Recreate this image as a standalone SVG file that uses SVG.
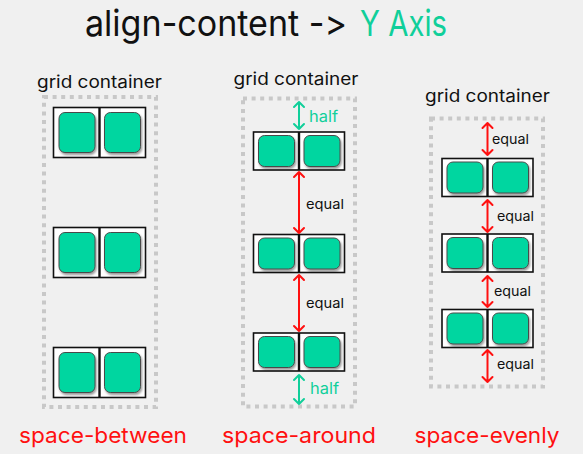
<svg xmlns="http://www.w3.org/2000/svg" width="583" height="454" viewBox="0 0 583 454">
  <style>
    .bg { fill: #f0f0f0; }
    .box { fill: none; stroke: #c8c8c8; stroke-width: 4; stroke-dasharray: 4 4.6; }
    .cell { fill: #ffffff; stroke: #111111; stroke-width: 1.6; }
    .div { stroke: #111111; stroke-width: 2.4; }
    .item { fill: #06d6a0; stroke: #4a4a4a; stroke-width: 1; filter: url(#shadow); }
    text { font-feature-settings: "calt" 0, "liga" 0; font-variant-ligatures: none; }
    .lbl { font-family: Inter, "Open Sans", sans-serif; font-size: 17px; fill: #111111; }
    .eq { font-family: Inter, "Open Sans", sans-serif; font-size: 13.5px; fill: #111111; }
    .half { font-family: Inter, "Open Sans", sans-serif; font-size: 16px; fill: #10cf9a; }
    .mode { font-family: Inter, "Open Sans", sans-serif; font-size: 22px; fill: #ff1010; }
    .title { font-family: Inter, "Open Sans", sans-serif; font-size: 36px; }
    .red { fill: none; stroke: #ff1010; stroke-width: 2; stroke-linecap: round; stroke-linejoin: round; }
    .teal { fill: none; stroke: #10cf9a; stroke-width: 2; stroke-linecap: round; stroke-linejoin: round; }
  </style>
  <defs>
    <filter id="shadow" x="-20%" y="-20%" width="150%" height="150%">
      <feDropShadow dx="1.2" dy="2" stdDeviation="1" flood-color="#000" flood-opacity="0.4"/>
    </filter>
    <!-- one row of the grid: two cells with a rounded item each (tall variant) -->
    <g id="rowTall">
      <rect class="cell" x="0" y="0" width="92" height="50"/>
      <line class="div" x1="46" y1="0" x2="46" y2="50"/>
      <rect class="item" x="5.5" y="5" width="36" height="40" rx="6"/>
      <rect class="item" x="51" y="5" width="36" height="40" rx="6"/>
    </g>
    <!-- shorter row variant -->
    <g id="rowShort">
      <rect class="cell" x="0" y="0" width="91" height="38"/>
      <line class="div" x1="45.5" y1="0" x2="45.5" y2="38"/>
      <rect class="item" x="5" y="3.5" width="36" height="31" rx="6"/>
      <rect class="item" x="50.5" y="3.5" width="36" height="31" rx="6"/>
    </g>
  </defs>

  <rect class="bg" x="0" y="0" width="583" height="454"/>

  <g id="title">
    <text class="title" x="85" y="36" fill="#111111" textLength="262" lengthAdjust="spacingAndGlyphs">align-content -&gt;</text>
    <text class="title" x="360" y="36" fill="#10cf9a" textLength="87" lengthAdjust="spacingAndGlyphs">Y Axis</text>
  </g>

  <!-- space-between -->
  <g id="between">
    <text class="lbl" x="37" y="88" textLength="125" lengthAdjust="spacingAndGlyphs">grid container</text>
    <rect class="box" x="44" y="97" width="112" height="310"/>
    <use href="#rowTall" x="53.5" y="107.5"/>
    <use href="#rowTall" x="53.5" y="227.5"/>
    <use href="#rowTall" x="53.5" y="347.5"/>
    <text class="mode" x="19" y="443" textLength="168" lengthAdjust="spacingAndGlyphs">space-between</text>
  </g>

  <!-- space-around -->
  <g id="around">
    <text class="lbl" x="233.5" y="85" textLength="125" lengthAdjust="spacingAndGlyphs">grid container</text>
    <rect class="box" x="243" y="98.5" width="112" height="308"/>
    <use href="#rowShort" x="253.5" y="132"/>
    <use href="#rowShort" x="253.5" y="234.5"/>
    <use href="#rowShort" x="253.5" y="333"/>
    <text class="mode" x="222" y="443" textLength="154" lengthAdjust="spacingAndGlyphs">space-around</text>
  </g>

  <!-- space-evenly -->
  <g id="evenly">
    <text class="lbl" x="425" y="102" textLength="125" lengthAdjust="spacingAndGlyphs">grid container</text>
    <rect class="box" x="431" y="118.5" width="112" height="268"/>
    <use href="#rowShort" x="442" y="158.5"/>
    <use href="#rowShort" x="442" y="234"/>
    <use href="#rowShort" x="442" y="309.5"/>
    <text class="mode" x="414.5" y="443" textLength="145" lengthAdjust="spacingAndGlyphs">space-evenly</text>
  </g>

  <!-- spacing arrows and their labels -->
  <g id="connectors">
    <!-- space-around -->
    <path class="teal" d="M299 102 V129 M294 107 L299 102 L304 107 M294 124 L299 129 L304 124"/>
    <text class="half" x="309" y="122" textLength="29" lengthAdjust="spacingAndGlyphs">half</text>
    <path class="red" d="M299 172 V233 M294 177 L299 172 L304 177 M294 228 L299 233 L304 228"/>
    <text class="eq" x="306" y="209" textLength="38" lengthAdjust="spacingAndGlyphs">equal</text>
    <path class="red" d="M299 275 V331 M294 280 L299 275 L304 280 M294 326 L299 331 L304 326"/>
    <text class="eq" x="306" y="308" textLength="38" lengthAdjust="spacingAndGlyphs">equal</text>
    <path class="teal" d="M299 375 V404 M294 380 L299 375 L304 380 M294 399 L299 404 L304 399"/>
    <text class="half" x="310" y="394" textLength="29" lengthAdjust="spacingAndGlyphs">half</text>

    <!-- space-evenly -->
    <path class="red" d="M487.5 123 V155 M482.5 128 L487.5 123 L492.5 128 M482.5 150 L487.5 155 L492.5 150"/>
    <text class="eq" x="492" y="144" textLength="37" lengthAdjust="spacingAndGlyphs">equal</text>
    <path class="red" d="M487.5 200 V232 M482.5 205 L487.5 200 L492.5 205 M482.5 227 L487.5 232 L492.5 227"/>
    <text class="eq" x="497" y="221" textLength="37" lengthAdjust="spacingAndGlyphs">equal</text>
    <path class="red" d="M487.5 276 V307 M482.5 281 L487.5 276 L492.5 281 M482.5 302 L487.5 307 L492.5 302"/>
    <text class="eq" x="494" y="296" textLength="37" lengthAdjust="spacingAndGlyphs">equal</text>
    <path class="red" d="M487.5 350 V382 M482.5 355 L487.5 350 L492.5 355 M482.5 377 L487.5 382 L492.5 377"/>
    <text class="eq" x="497" y="369" textLength="37" lengthAdjust="spacingAndGlyphs">equal</text>
  </g>
</svg>
